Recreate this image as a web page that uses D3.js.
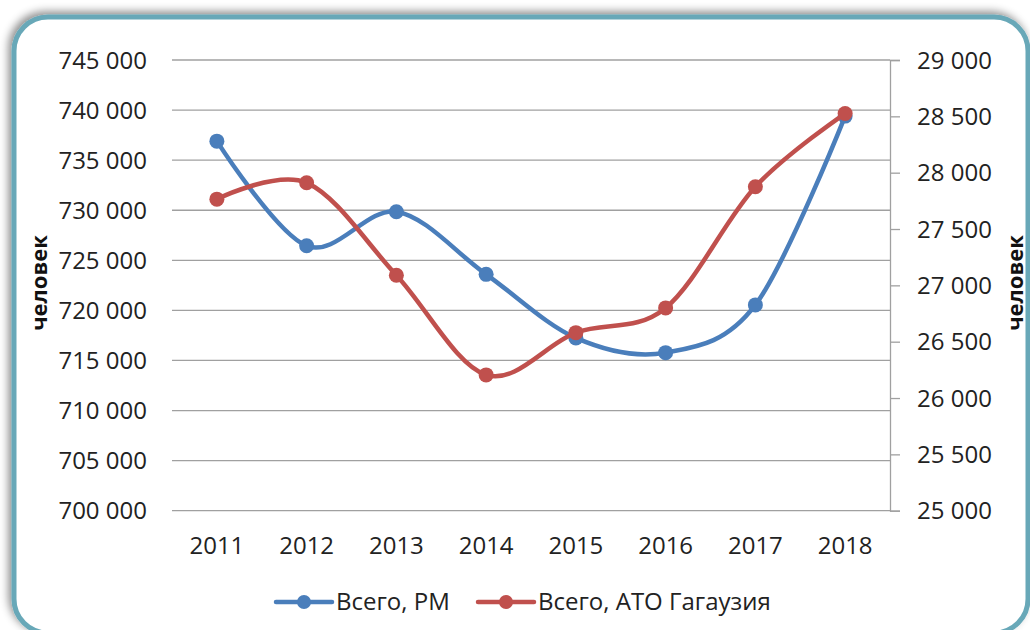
<!DOCTYPE html>
<html>
<head>
<meta charset="utf-8">
<script src="https://cdn.jsdelivr.net/npm/d3@7"></script>
<style>
  body { margin: 0; background: #fff; }
  svg { display: block; font-family: "Open Sans", sans-serif; }
</style>
</head>
<body>
<svg id="chart" width="1030" height="630"></svg>
<script>
// data
const years = ['2011', '2012', '2013', '2014', '2015', '2016', '2017', '2018']
const totalRM = [736900, 726450, 729850, 723600, 717250, 715780, 720550, 739400]
const totalGagauzia = [27765, 27910, 27090, 26205, 26580, 26800, 27875, 28525]
const leftTicks = [700000, 705000, 710000, 715000, 720000, 725000, 730000, 735000, 740000, 745000]
const rightTicks = [25000, 25500, 26000, 26500, 27000, 27500, 28000, 28500, 29000]
const seriesNames = ['Всего, РМ', 'Всего, АТО Гагаузия']
const axisTitle = 'человек'

const blue = '#4a7ebb', red = '#c0504d', textColor = '#222'

const svg = d3.select('#chart')

const plot = { left: 172, right: 890, top: 60, bottom: 510.7 }

// thousands with a space, like the russian excel
const fmt = v => d3.format(',')(v).replace(/,/g, ' ')

/**
 * the rounded teal frame with a soft shadow
 */
const printFrame = () => {
    const defs = svg.append('defs')
    const f = defs.append('filter').attr('id', 'shadow')
        .attr('x', '-5%').attr('y', '-5%').attr('width', '110%').attr('height', '110%')
    f.append('feDropShadow')
        .attr('dx', -3).attr('dy', -3).attr('stdDeviation', 4)
        .attr('flood-color', '#000').attr('flood-opacity', 0.45)

    svg.append('rect')
        .attr('x', 14).attr('y', 17)
        .attr('width', 1014).attr('height', 616)
        .attr('rx', 34).attr('ry', 34)
        .style('fill', '#fff')
        .style('stroke', '#68a8b8')
        .style('stroke-width', 5)
        .attr('filter', 'url(#shadow)')
}

printFrame()

const xScale = d3.scaleBand().domain(years).range([plot.left, plot.right])
const yLeft = d3.scaleLinear().domain([700000, 745000]).range([plot.bottom, plot.top])
const yRight = d3.scaleLinear().domain([25000, 29000]).range([plot.bottom, plot.top])

// gridlines
svg.append('g')
    .selectAll('line')
    .data(leftTicks)
    .enter()
    .append('line')
        .attr('x1', plot.left)
        .attr('x2', plot.right)
        .attr('y1', d => yLeft(d))
        .attr('y2', d => yLeft(d))
        .style('stroke', '#a0a0a0')
        .style('stroke-width', 1.3)

// left axis, labels only
const leftAxis = svg.append('g')
    .attr('transform', `translate(${plot.left},0)`)
    .call(d3.axisLeft(yLeft).tickValues(leftTicks).tickFormat(fmt).tickSize(0).tickPadding(25))
leftAxis.select('.domain').remove()

// right axis with its line and outside ticks
const rightAxis = svg.append('g')
    .attr('transform', `translate(${plot.right},0)`)
    .call(d3.axisRight(yRight).tickValues(rightTicks).tickFormat(fmt).tickSizeOuter(0).tickSize(10).tickPadding(17))
rightAxis.select('.domain').style('stroke', '#a0a0a0').style('stroke-width', 1.3)
rightAxis.selectAll('.tick line').style('stroke', '#a0a0a0').style('stroke-width', 1.3)

// bottom axis, labels only
const bottomAxis = svg.append('g')
    .attr('transform', `translate(0,${plot.bottom})`)
    .call(d3.axisBottom(xScale).tickSize(0).tickPadding(26))
bottomAxis.select('.domain').remove()

svg.selectAll('.tick text')
    .style('font-family', '"Open Sans", sans-serif')
    .style('font-size', '24px')
    .style('fill', textColor)
leftAxis.selectAll('.tick text').attr('dy', '0.34em')
rightAxis.selectAll('.tick text').attr('dy', '0.34em')

// axis titles
const printTitle = (x) =>
    svg.append('text')
        .attr('transform', `translate(${x},283) rotate(-90)`)
        .attr('text-anchor', 'middle')
        .attr('dy', '0.35em')
        .style('font-size', '22px')
        .style('font-weight', 'bold')
        .style('fill', '#111')
        .text(axisTitle)

printTitle(39)
printTitle(1015)

/**
 * one smoothed series with its dots
 */
const printSeries = (values, yScale, color) => {
    const pts = values.map((v, i) => ({ x: years[i], y: v }))
    const cx = d => xScale(d.x) + xScale.bandwidth() / 2

    svg.append('path')
        .datum(pts)
        .attr('d', d3.line().x(cx).y(d => yScale(d.y)).curve(d3.curveCardinal.tension(0)))
        .style('fill', 'none')
        .style('stroke', color)
        .style('stroke-width', 4.5)

    svg.append('g')
        .selectAll('dot')
        .data(pts)
        .enter()
        .append('circle')
            .attr('cx', cx)
            .attr('cy', d => yScale(d.y))
            .attr('r', 7.5)
            .style('fill', color)
}

printSeries(totalRM, yLeft, blue)
printSeries(totalGagauzia, yRight, red)

// legend
const legend = [
    { name: seriesNames[0], color: blue, x: 276 },
    { name: seriesNames[1], color: red, x: 478 }
]
const lg = svg.append('g').attr('transform', 'translate(0,602)')
legend.forEach(l => {
    lg.append('line')
        .attr('x1', l.x).attr('x2', l.x + 56)
        .attr('y1', 0).attr('y2', 0)
        .style('stroke', l.color)
        .style('stroke-width', 4.5)
        .style('stroke-linecap', 'round')
    lg.append('circle')
        .attr('cx', l.x + 28).attr('cy', 0).attr('r', 7)
        .style('fill', l.color)
    lg.append('text')
        .attr('x', l.x + 60).attr('y', 0)
        .attr('dy', '0.35em')
        .style('font-size', '24px')
        .style('fill', textColor)
        .text(l.name)
})
</script>
</body>
</html>
